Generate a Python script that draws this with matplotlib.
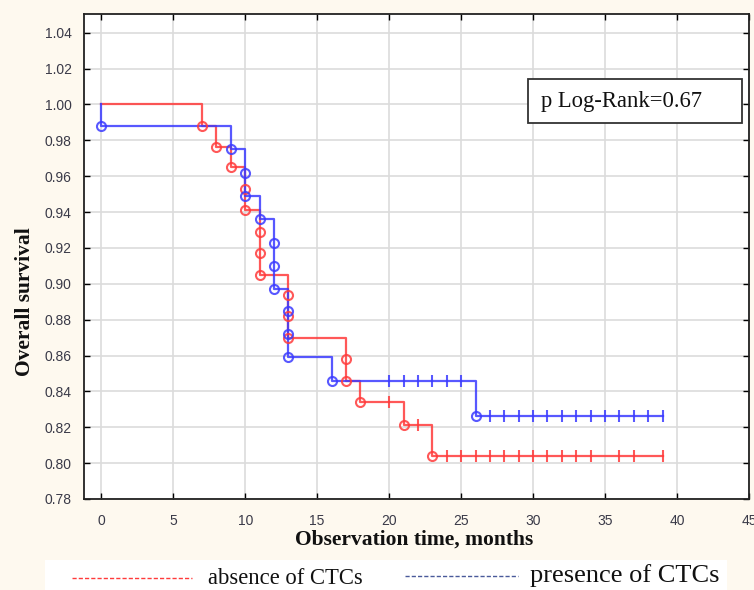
import numpy as np
import matplotlib
matplotlib.use("Agg")
import matplotlib.pyplot as plt
from matplotlib.patches import Rectangle
from matplotlib.lines import Line2D

# ---- data ----
red_event_t = [7, 8, 9, 10, 10, 11, 11, 11, 13, 13, 13, 17, 17, 18, 21, 23]
red_event_s = [0.988, 0.976, 0.965, 0.953, 0.941, 0.929, 0.917, 0.905,
               0.894, 0.882, 0.870, 0.858, 0.846, 0.834, 0.821, 0.804]
red_cens_t = [20, 22, 24, 25, 26, 27, 28, 29, 30, 31, 32, 33, 34, 36, 37, 39]

blue_event_t = [0, 9, 10, 10, 11, 12, 12, 12, 13, 13, 13, 16, 26]
blue_event_s = [0.988, 0.975, 0.962, 0.949, 0.936, 0.923, 0.910, 0.897,
                0.885, 0.872, 0.859, 0.846, 0.826]
blue_cens_t = [20, 21, 22, 23, 24, 25, 27, 28, 29, 30, 31, 32, 33, 34, 35,
               36, 37, 38, 39]

x_ticks = [0, 5, 10, 15, 20, 25, 30, 35, 40, 45]
y_ticks = [0.78, 0.80, 0.82, 0.84, 0.86, 0.88, 0.90, 0.92, 0.94, 0.96,
           0.98, 1.00, 1.02, 1.04]
p_text = "p Log-Rank=0.67"
legend_labels = ["absence of CTCs", "presence of CTCs"]

RED = "#FF3B3B"
BLUE = "#3B3BFF"
CREAM = "#FEF9EF"

fig = plt.figure(figsize=(7.54, 5.9), dpi=100, facecolor=CREAM)
ax = fig.add_axes([84 / 754, 1 - 499 / 590, (749 - 84) / 754, (499 - 13.5) / 590])
ax.set_facecolor("white")


def surv_at(ts, ev_t, ev_s):
    ev_t = np.asarray(ev_t)
    ev_s = np.asarray(ev_s)
    out = []
    for t in ts:
        idx = np.where(ev_t <= t)[0]
        out.append(ev_s[idx[-1]] if len(idx) else 1.0)
    return np.array(out)


def draw_group(ev_t, ev_s, cens_t, color):
    end = max(max(cens_t), max(ev_t))
    xs = [0] + list(ev_t) + [end]
    ys = [1.0] + list(ev_s) + [ev_s[-1]]
    ax.step(xs, ys, where="post", color=color, lw=1.6, alpha=0.85, zorder=3)
    ax.plot(ev_t, ev_s, "o", mfc="none", mec=color, mew=1.5, ms=6.5,
            alpha=0.85, zorder=4)
    cy = surv_at(cens_t, ev_t, ev_s)
    ax.plot(cens_t, cy, "|", color=color, ms=8, mew=1.5, alpha=0.85, zorder=4)


draw_group(red_event_t, red_event_s, red_cens_t, RED)
draw_group(blue_event_t, blue_event_s, blue_cens_t, BLUE)

ax.set_xlim(-1.2, 45)
ax.set_ylim(0.78, 1.0507)
ax.set_xticks(x_ticks)
ax.set_yticks(y_ticks)
ax.set_yticklabels([f"{v:.2f}" for v in y_ticks])
ax.grid(True, color="#DCDCDC", lw=1.2, zorder=0)
ax.set_axisbelow(True)
ax.tick_params(direction="in", length=4, width=1, top=True, right=True,
               labelsize=10, labelcolor="#3A3A48", pad=9)
for lab in ax.get_xticklabels() + ax.get_yticklabels():
    lab.set_family("Liberation Sans")
ax.tick_params(axis="x", pad=11)
for s in ax.spines.values():
    s.set_color("#222222")
    s.set_linewidth(1.3)

serif = "Liberation Serif"
fig.text(414 / 754, 1 - 540 / 590, "Observation time, months", ha="center",
         va="center", family=serif, fontweight="bold", fontsize=15.5,
         color="#111111")
fig.text(25 / 754, 1 - 302 / 590, "Overall survival", ha="center",
         va="center", rotation=90, family=serif, fontweight="bold",
         fontsize=15.5, color="#111111")

# p-value box
fig.patches.append(Rectangle((528 / 754, 1 - 123 / 590), 214 / 754, 44 / 590,
                             transform=fig.transFigure, facecolor="white",
                             edgecolor="#333333", lw=1.3, zorder=5))
fig.text(541 / 754, 1 - 102 / 590, p_text, ha="left", va="center",
         family=serif, fontsize=16.3, color="#111111", zorder=6)

# bottom white legend strip
fig.patches.append(Rectangle((45 / 754, 0), (727 - 45) / 754, 30 / 590,
                             transform=fig.transFigure, facecolor="white",
                             edgecolor="none", zorder=1))
yl = 1 - 578 / 590
fig.lines.append(Line2D([72 / 754, 192 / 754], [yl, yl], transform=fig.transFigure,
                        color=RED, lw=1, ls=(0, (3, 1.5)), zorder=2))
fig.text(208 / 754, yl, legend_labels[0], ha="left", va="center", family=serif,
         fontsize=16.3, color="#111111", zorder=3)
fig.lines.append(Line2D([405 / 754, 518 / 754], [yl + 0.003, yl + 0.003],
                        transform=fig.transFigure, color="#4A5A9A", lw=1,
                        ls=(0, (3, 1.5)), zorder=2))
fig.text(530 / 754, yl + 0.004, legend_labels[1], ha="left", va="center",
         family=serif, fontsize=19, color="#111111", zorder=3)

fig.savefig("out.png", dpi=100, facecolor=CREAM)
